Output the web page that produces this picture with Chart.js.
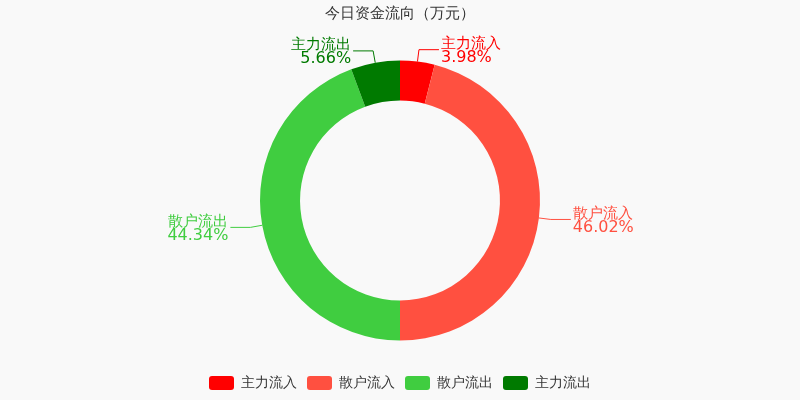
<!DOCTYPE html>
<html><head><meta charset="utf-8">
<script src="https://cdn.jsdelivr.net/npm/chart.js@4/dist/chart.umd.min.js"></script>
<style>html,body{margin:0;background:#f9f9f9}#c{width:800px;height:400px}</style>
</head><body><div id="c"><canvas id="chart" width="800" height="400"></canvas></div>
<script>
const labels = ["主力流入", "散户流入", "散户流出", "主力流出"];
const values = [3.98, 46.02, 44.34, 5.66];
const colors = ["#ff0000", "#ff5040", "#40cd40", "#007a00"];
const font = "'DejaVu Sans', sans-serif";

// outside labels with leader lines
const outLabels = {
  id: "outLabels",
  afterDatasetsDraw(chart) {
    const ctx = chart.ctx;
    chart.getDatasetMeta(0).data.forEach((arc, i) => {
      const a = (arc.startAngle + arc.endAngle) / 2;
      const r = arc.outerRadius;
      const x0 = arc.x + Math.cos(a) * r, y0 = arc.y + Math.sin(a) * r;
      const x1 = arc.x + Math.cos(a) * (r + 12), y1 = arc.y + Math.sin(a) * (r + 12);
      const right = Math.cos(a) >= 0;
      const x2 = x1 + (right ? 20 : -20);
      ctx.save();
      ctx.strokeStyle = colors[i];
      ctx.lineWidth = 1;
      ctx.beginPath(); ctx.moveTo(x0, y0); ctx.lineTo(x1, y1); ctx.lineTo(x2, y1); ctx.stroke();
      ctx.fillStyle = colors[i];
      ctx.font = "15px " + font;
      ctx.textAlign = right ? "left" : "right";
      const tx = x2 + (right ? 2 : -2);
      ctx.textBaseline = "bottom";
      ctx.fillText(labels[i], tx, y1 + 2);
      ctx.font = "16px " + font;
      ctx.textBaseline = "top";
      ctx.fillText(values[i].toFixed(2) + "%", tx, y1);
      ctx.restore();
    });
  }
};

new Chart(document.getElementById("chart"), {
  type: "doughnut",
  data: {
    labels: labels,
    datasets: [{ data: values, backgroundColor: colors, borderWidth: 0, radius: 140, cutout: "71.4%" }]
  },
  options: {
    responsive: false,
    animation: false,
    layout: { padding: { top: 0, bottom: 0 } },
    plugins: {
      title: { display: true, text: "今日资金流向（万元）", color: "#333", font: { family: font, size: 15, weight: "normal" }, padding: { top: 5, bottom: 12 } },
      legend: {
        position: "bottom",
        labels: { color: "#333", font: { family: font, size: 14 }, boxWidth: 25, boxHeight: 14, useBorderRadius: true, borderRadius: 3, padding: 10 }
      },
      tooltip: { enabled: false }
    }
  },
  plugins: [outLabels]
});
</script></body></html>
